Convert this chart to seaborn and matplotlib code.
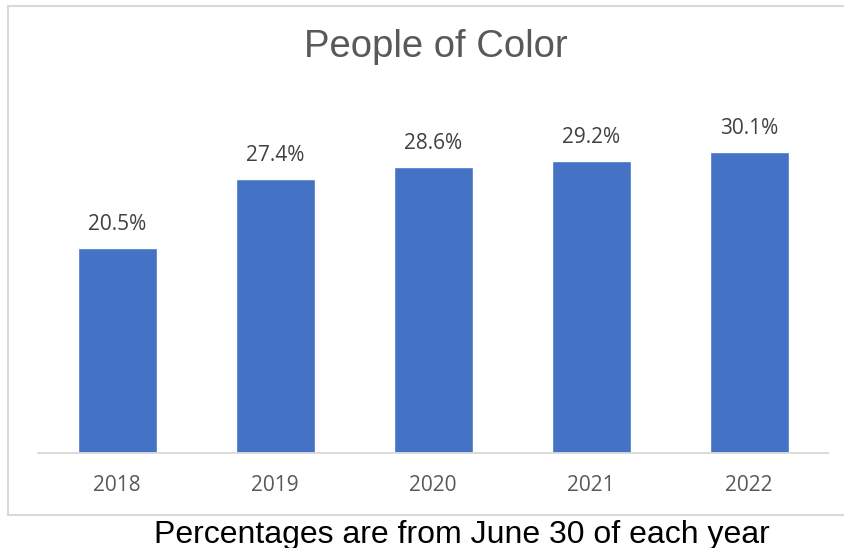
import matplotlib
matplotlib.use("Agg")
import matplotlib.pyplot as plt
import seaborn as sns
import pandas as pd
from matplotlib.lines import Line2D

years = ["2018", "2019", "2020", "2021", "2022"]
values = [20.5, 27.4, 28.6, 29.2, 30.1]
title = "People of Color"
caption = "Percentages are from June 30 of each year"

sns.set_theme(style="white")
plt.rcParams["font.family"] = ["Open Sans", "DejaVu Sans"]

W, H = 844, 548
fig = plt.figure(figsize=(W / 100, H / 100), dpi=100)
ax = fig.add_axes([38 / W, (H - 453) / H, (828 - 38) / W, 350 / H])

df = pd.DataFrame({"year": years, "value": values})
sns.barplot(data=df, x="year", y="value", color="#4472C4", saturation=1,
            width=0.5, ax=ax)

ax.set_ylim(0, 35)
ax.set_xlim(-0.5, 4.5)
ax.set_xlabel("")
ax.set_ylabel("")
ax.set_yticks([])
for s in ["top", "left", "right"]:
    ax.spines[s].set_visible(False)
ax.spines["bottom"].set_color("#D9D9D9")
ax.spines["bottom"].set_linewidth(1.3)
ax.tick_params(axis="x", length=0, pad=16, labelsize=15, labelcolor="#595959")

for c in ax.containers:
    ax.bar_label(c, labels=[f"{v:.1f}%" for v in values], padding=9,
                 fontsize=15, color="#404040")

# chart frame (open on the right, as in the cropped reference)
x0, y_top, y_bot = 8 / W, 1 - 6 / H, 1 - 515 / H
for xs, ys in [([x0, 1.05], [y_top, y_top]),
               ([x0, x0], [y_top, y_bot]),
               ([x0, 1.05], [y_bot, y_bot])]:
    fig.add_artist(Line2D(xs, ys, transform=fig.transFigure,
                          color="#D9D9D9", linewidth=1.5))

fig.text(436 / W, 1 - 47 / H, title, ha="center", va="center",
         fontsize=27.5, color="#595959", family=["Liberation Sans", "DejaVu Sans"])
fig.text(462 / W, 1 - 543 / H, caption, ha="center", va="baseline",
         fontsize=23, color="black", family=["Liberation Sans", "DejaVu Sans"])

fig.savefig("out.png", dpi=100)
